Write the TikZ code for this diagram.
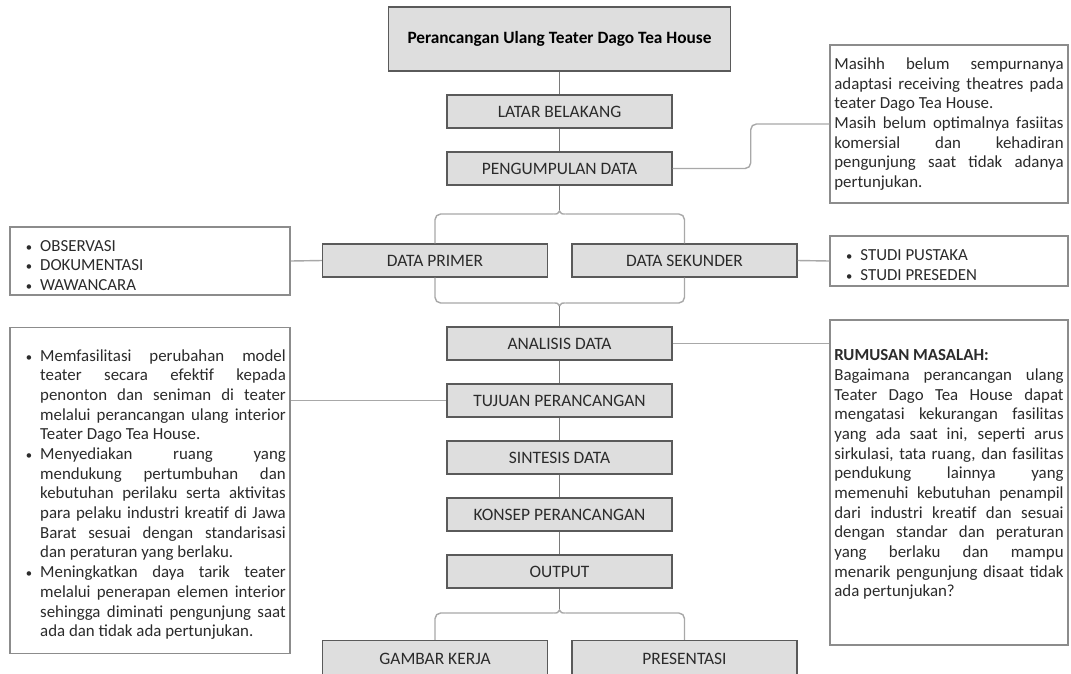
\documentclass[tikz,border=0pt]{standalone}
\usepackage{fontspec}
\setmainfont{Carlito}
\usepackage{enumitem}
\definecolor{boxfill}{HTML}{DEDEDE}
\definecolor{boxline}{HTML}{5A5A5A}
\definecolor{linkcol}{HTML}{A8A8A8}
\definecolor{stemcol}{HTML}{7A7A7A}
\definecolor{noteline}{HTML}{8C8C8C}
\definecolor{teks}{HTML}{2B2B2B}
\newcommand{\daftar}[1]{%
  \begin{itemize}[leftmargin=0.65cm,labelsep=0.2cm,nosep,
    label={\small\textbullet}]
  #1
  \end{itemize}}
% cabang kurung kurawal: #1 titik tengah, #2 ujung, #3 kiri, #4 kanan
\newcommand{\kurawal}[4]{%
  \draw[link] (#3) .. controls ($(#1)+(-2,0)$) .. (#2)
    .. controls ($(#1)+(2,0)$) .. (#4);}
\usetikzlibrary{calc}

\begin{document}
\begin{tikzpicture}[x=0.025cm,y=-0.025cm,font=\fontsize{12}{14}\selectfont,
    proc/.style={draw=boxline,fill=boxfill,line width=1pt,text=teks,
      minimum width=5.625cm,minimum height=0.825cm,inner sep=0pt,
      font=\fontsize{12.4}{14}\selectfont},
    note/.style={draw=noteline,fill=white,line width=1pt,text=teks,
      inner xsep=3pt,inner ysep=2pt,align=justify},
    link/.style={draw=linkcol,line width=1pt},
    penghubung/.style={draw=stemcol,line width=1pt}]
  \useasboundingbox (0,0) rectangle (1071,673);
  \fill[white] (0,0) rectangle (1071,673);
  % alur utama
  \node[proc,minimum width=8.55cm,minimum height=1.6cm,text=black,
    font=\fontsize{12.3}{14}\selectfont\bfseries] (judul) at (559.5,39)
    {Perancangan Ulang Teater Dago Tea House};
  \node[proc] (latar) at (559.5,111.5) {LATAR BELAKANG};
  \node[proc] (kumpul) at (559.5,168.5) {PENGUMPULAN DATA};
  \node[proc] (primer) at (435,260.5) {DATA PRIMER};
  \node[proc] (sekunder) at (684.5,260.5) {DATA SEKUNDER};
  \node[proc] (analisis) at (559.5,343.5) {ANALISIS DATA};
  \node[proc] (tujuan) at (559.5,400.5) {TUJUAN PERANCANGAN};
  \node[proc] (sintesis) at (559.5,457.5) {SINTESIS DATA};
  \node[proc] (konsep) at (559.5,514.5) {KONSEP PERANCANGAN};
  \node[proc] (output) at (559.5,571.5) {OUTPUT};
  \node[proc,minimum height=0.9cm] (gambar) at (435,658.5) {GAMBAR KERJA};
  \node[proc,minimum height=0.9cm] (presentasi) at (684.5,658.5) {PRESENTASI};
  % kotak keterangan
  \node[note,text width=5.73cm,minimum height=3.95cm] (masalah) at (949,124)
    {Masihh belum sempurnanya\linebreak
     adaptasi receiving theatres pada\linebreak
     teater Dago Tea House.\par
     Masih belum optimalnya fasiitas\linebreak
     komersial dan kehadiran\linebreak
     pengunjung saat tidak adanya\linebreak
     pertunjukan.};
  \node[note,text width=6.79cm,minimum height=1.7cm] (primerlist) at (150,261)
    {\daftar{\item OBSERVASI \item DOKUMENTASI \item WAWANCARA}};
  \node[note,text width=5.73cm,minimum height=1.25cm] (sekunderlist) at (949,261)
    {\daftar{\item STUDI PUSTAKA \item STUDI PRESEDEN}};
  \node[note,text width=6.79cm,minimum height=8.15cm] (tujuanlist) at (150,490.5)
    {\daftar{%
     \item Memfasilitasi perubahan model\linebreak
       teater secara efektif kepada\linebreak
       penonton dan seniman di teater\linebreak
       melalui perancangan ulang interior\linebreak
       Teater Dago Tea House.
     \item Menyediakan ruang yang\linebreak
       mendukung pertumbuhan dan\linebreak
       kebutuhan perilaku serta aktivitas\linebreak
       para pelaku industri kreatif di Jawa\linebreak
       Barat sesuai dengan standarisasi\linebreak
       dan peraturan yang berlaku.
     \item Meningkatkan daya tarik teater\linebreak
       melalui penerapan elemen interior\linebreak
       sehingga diminati pengunjung saat\linebreak
       ada dan tidak ada pertunjukan.}};
  \node[note,text width=5.73cm,minimum height=8.125cm] (rumusan) at (949,482.5)
    {\textbf{RUMUSAN MASALAH:}\par
     Bagaimana perancangan ulang\linebreak
     Teater Dago Tea House dapat\linebreak
     mengatasi kekurangan fasilitas\linebreak
     yang ada saat ini, seperti arus\linebreak
     sirkulasi, tata ruang, dan fasilitas\linebreak
     pendukung lainnya yang\linebreak
     memenuhi kebutuhan penampil\linebreak
     dari industri kreatif dan sesuai\linebreak
     dengan standar dan peraturan\linebreak
     yang berlaku dan mampu\linebreak
     menarik pengunjung disaat tidak\linebreak
     ada pertunjukan?\par\vspace{11pt}};
  % titik cabang
  \coordinate (c1) at (559.5,214);   \coordinate (c1u) at (559.5,211);
  \coordinate (c1l) at (553.5,214);  \coordinate (c1r) at (565.5,214);
  \coordinate (c2) at (559.5,303);   \coordinate (c2u) at (559.5,306);
  \coordinate (c2l) at (553.5,303);  \coordinate (c2r) at (565.5,303);
  \coordinate (c3) at (559.5,613);   \coordinate (c3u) at (559.5,610);
  \coordinate (c3l) at (553.5,613);  \coordinate (c3r) at (565.5,613);
  % penghubung
  \draw[penghubung] (judul.south) -- (latar.north);
  \draw[penghubung] (latar.south) -- (kumpul.north);
  \draw[penghubung] (kumpul.south) -- (c1u);
  \draw[link,rounded corners=4pt] (primer.north) |- (c1l);
  \draw[link,rounded corners=4pt] (sekunder.north) |- (c1r);
  \kurawal{c1}{c1u}{c1l}{c1r}
  \draw[link,rounded corners=4pt] (primer.south) |- (c2l);
  \draw[link,rounded corners=4pt] (sekunder.south) |- (c2r);
  \kurawal{c2}{c2u}{c2l}{c2r}
  \draw[penghubung] (c2u) -- (analisis.north);
  \draw[penghubung] (analisis.south) -- (tujuan.north);
  \draw[penghubung] (tujuan.south) -- (sintesis.north);
  \draw[penghubung] (sintesis.south) -- (konsep.north);
  \draw[penghubung] (konsep.south) -- (output.north);
  \draw[penghubung] (output.south) -- (c3u);
  \draw[link,rounded corners=4pt] (gambar.north) |- (c3l);
  \draw[link,rounded corners=4pt] (presentasi.north) |- (c3r);
  \kurawal{c3}{c3u}{c3l}{c3r}
  \draw[link,rounded corners=4pt] (kumpul.east) -- ++(78,0) |- (masalah.west);
  \draw[link] (primerlist.east) -- (primer.west);
  \draw[link] (sekunder.east) -- (sekunderlist.west);
  \draw[link] (analisis.east) -- (analisis.east -| rumusan.west);
  \draw[link] (tujuanlist.east |- tujuan.west) -- (tujuan.west);
\end{tikzpicture}
\end{document}
